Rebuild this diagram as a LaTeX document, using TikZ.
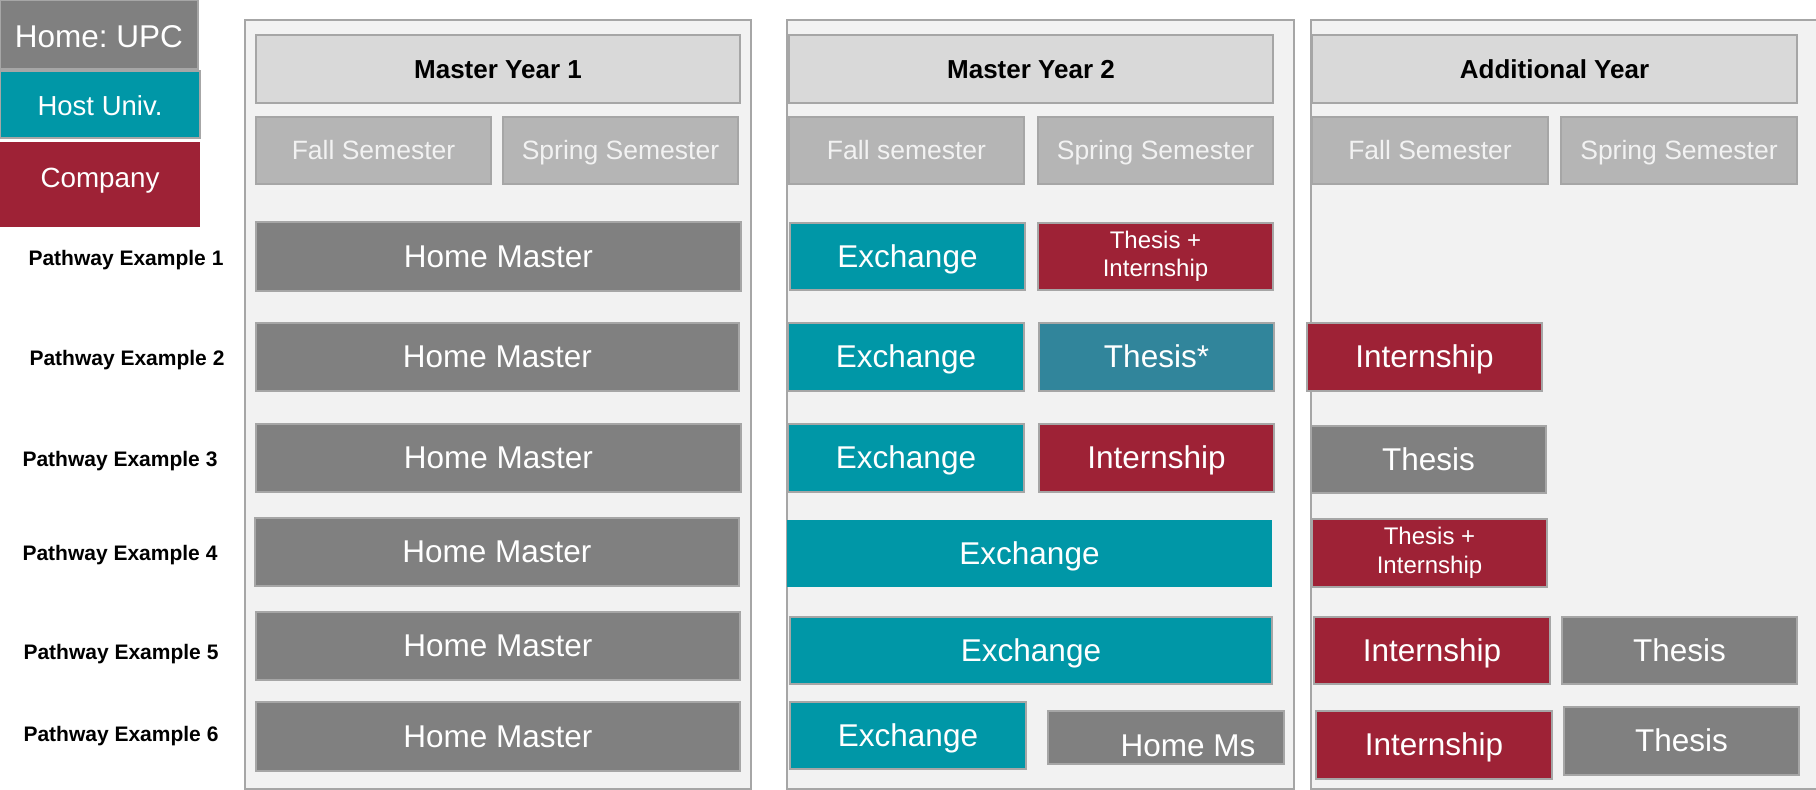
\documentclass[tikz,border=0pt]{standalone}
\usepackage{fontspec}
\setmainfont{Liberation Sans}
\frenchspacing
\definecolor{dgray}{RGB}{128,128,128}
\definecolor{teal1}{RGB}{0,151,167}
\definecolor{teal2}{RGB}{49,133,155}
\definecolor{wine}{RGB}{158,34,54}
\definecolor{hdr}{RGB}{217,217,217}
\definecolor{sem}{RGB}{181,181,181}
\definecolor{panel}{RGB}{242,242,242}
\definecolor{bord}{RGB}{166,166,166}
\newcommand\fsz[2]{\fontsize{#1}{#2}\selectfont}
\newcommand\mybox[7]{\node[#1, minimum width={(#5)-(#3)}, minimum height={(#6)-(#4)}] (#2) at ({((#3)+(#5))/2},{((#4)+(#6))/2}) {#7};}
\tikzset{
  box/.style={draw=bord, line width=1.5pt, inner sep=0pt, text=white, align=center, font=\fsz{31.5}{38}, text height=28.5pt, text depth=6.7pt},
  grayb/.style={box, fill=dgray},
  tealb/.style={box, fill=teal1},
  teal2b/.style={box, fill=teal2},
  redb/.style={box, fill=wine},
  hdrb/.style={box, fill=hdr, text=black, font=\bfseries\fsz{26}{31}, text height=23.5pt, text depth=5.5pt},
  semb/.style={box, fill=sem, text=panel, font=\fsz{26.5}{32}, text height=24pt, text depth=5.6pt},
  twoline/.style={font=\fsz{24}{28.5}, text height={}, text depth={}},
  panelb/.style={draw=bord, fill=panel, line width=1.5pt, inner sep=0pt},
  lab/.style={font=\bfseries\fsz{21}{25}, text=black, inner sep=0pt, text height=19pt, text depth=4.5pt},
}
\begin{document}
\begin{tikzpicture}[x=1pt,y=-1pt]
\useasboundingbox (0,0) rectangle (1816,790);
% panels
\mybox{panelb}{pan1}{245}{20}{751}{789}{}
\mybox{panelb}{pan2}{787}{20}{1294}{789}{}
\fill[panel] (1311,20) rectangle (1816,789);
\draw[bord, line width=1.5pt] (1830,20) -- (1311,20) -- (1311,789) -- (1830,789);
% legend
\mybox{grayb, text height=32.5pt}{legA}{0}{0}{198}{69}{Home: UPC}
\mybox{tealb, font=\fsz{27.5}{33}, text height=27.9pt, text depth=5.8pt}{legB}{0}{71}{200}{138}{Host Univ.}
\mybox{redb, draw=none, font=\fsz{27.8}{33}, text height=25.2pt, text depth=19.9pt}{legC}{0}{142}{200}{227}{Company}
% headers
\mybox{hdrb}{h1}{256}{35}{740}{103}{Master Year 1}
\mybox{semb}{s1a}{256}{117}{491}{184}{Fall Semester}
\mybox{semb}{s1b}{503}{117}{738}{184}{Spring Semester}
\mybox{hdrb}{h2}{789}{35}{1273}{103}{Master Year 2}
\mybox{semb}{s2a}{789}{117}{1024}{184}{Fall semester}
\mybox{semb}{s2b}{1038}{117}{1273}{184}{Spring Semester}
\mybox{hdrb}{h3}{1312}{35}{1797}{103}{Additional Year}
\mybox{semb}{s3a}{1312}{117}{1548}{184}{Fall Semester}
\mybox{semb}{s3b}{1561}{117}{1797}{184}{Spring Semester}
% pathway labels
\node[lab] (l1) at (126,258) {Pathway Example 1};
\node[lab] (l2) at (127,358.5) {Pathway Example 2};
\node[lab] (l3) at (120,459) {Pathway Example 3};
\node[lab] (l4) at (120,553) {Pathway Example 4};
\node[lab] (l5) at (121,652) {Pathway Example 5};
\node[lab] (l6) at (121,734) {Pathway Example 6};
% row 1
\mybox{grayb}{r1a}{256}{222}{741}{291}{Home Master}
\mybox{tealb}{r1b}{790}{223}{1025}{290}{Exchange}
\mybox{redb, twoline}{r1c}{1038}{223}{1273}{290}{Thesis +\\Internship}
% row 2
\mybox{grayb}{r2a}{256}{323}{739}{391}{Home Master}
\mybox{tealb}{r2b}{788}{323}{1024}{391}{Exchange}
\mybox{teal2b}{r2c}{1039}{323}{1274}{391}{Thesis*}
\mybox{redb}{r2d}{1307}{323}{1542}{391}{Internship}
% row 3
\mybox{grayb}{r3a}{256}{424}{741}{492}{Home Master}
\mybox{tealb}{r3b}{788}{424}{1024}{492}{Exchange}
\mybox{redb}{r3c}{1039}{424}{1274}{492}{Internship}
\mybox{grayb}{r3d}{1311}{426}{1546}{493}{Thesis}
% row 4
\mybox{grayb}{r4a}{255}{518}{739}{586}{Home Master}
\mybox{tealb, draw=none}{r4b}{787}{520}{1272}{587}{Exchange}
\mybox{redb, twoline}{r4c}{1312}{519}{1547}{587}{Thesis +\\Internship}
% row 5
\mybox{grayb}{r5a}{256}{612}{740}{680}{Home Master}
\mybox{tealb}{r5b}{790}{617}{1272}{684}{Exchange}
\mybox{redb}{r5c}{1314}{617}{1550}{684}{Internship}
\mybox{grayb}{r5d}{1562}{617}{1797}{684}{Thesis}
% row 6
\mybox{grayb}{r6a}{256}{702}{740}{771}{Home Master}
\mybox{tealb}{r6b}{790}{702}{1026}{769}{Exchange}
\mybox{grayb}{r6c}{1048}{711}{1284}{764}{}
\node[text=white, font=\fsz{31.5}{38}, inner sep=0pt, text height=28.5pt, text depth=6.7pt] (r6ct) at ([xshift=22pt,yshift=-8pt]r6c.center) {Home Ms};
\mybox{redb}{r6d}{1316}{711}{1552}{779}{Internship}
\mybox{grayb}{r6e}{1564}{707}{1799}{775}{Thesis}
\end{tikzpicture}
\end{document}
